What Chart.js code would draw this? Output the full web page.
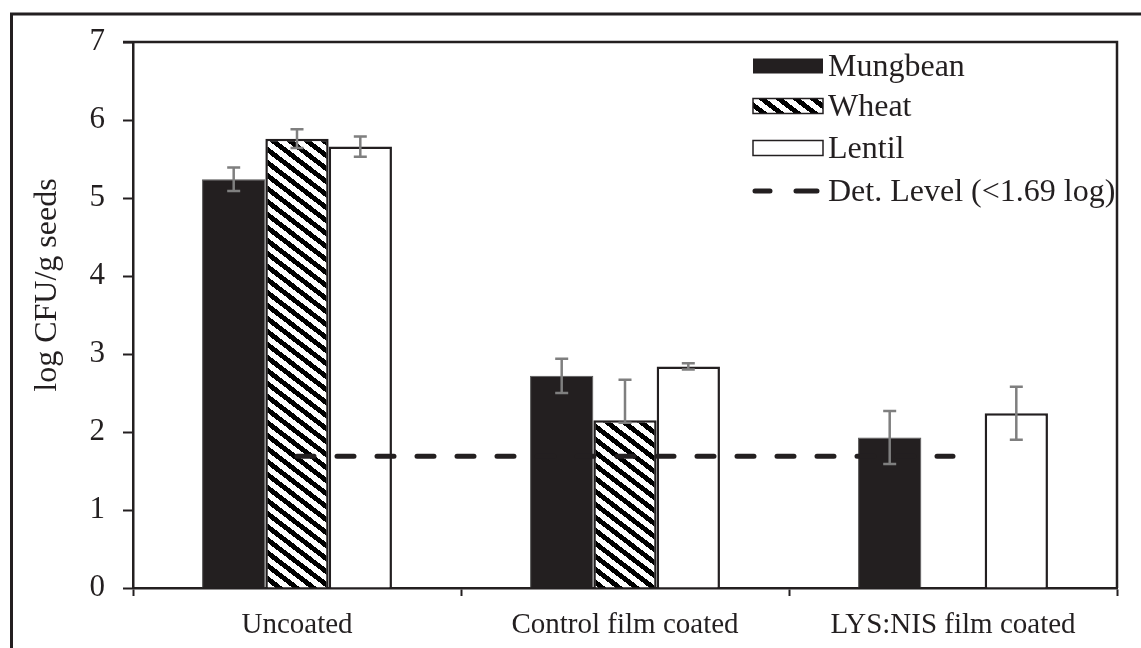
<!DOCTYPE html>
<html>
<head>
<meta charset="utf-8">
<script src="https://cdn.jsdelivr.net/npm/chart.js@4.4.1/dist/chart.umd.min.js"></script>
<style>
  html, body { margin: 0; padding: 0; background: #fff; }
  #wrap { width: 1141px; height: 648px; }
</style>
</head>
<body>
<div id="wrap"><canvas id="chart" width="1141" height="648"></canvas></div>
<script>
// data
const categories = ['Uncoated', 'Control film coated', 'LYS:NIS film coated'];
const mungbean = [5.24, 2.72, 1.93];
const wheat = [5.76, 2.15, null];
const lentil = [5.66, 2.84, 2.24];
const mungbeanErrUp = [0.15, 0.22, 0.34];
const mungbeanErrDown = [0.15, 0.22, 0.34];
const wheatErrUp = [0.12, 0.52, null];
const wheatErrDown = [0.12, 0.03, null];
const lentilErrUp = [0.13, 0.04, 0.34];
const lentilErrDown = [0.13, 0.04, 0.34];
const detLevel = [1.69, 1.69, 1.69];
const yMin = 0, yMax = 7, yStep = 1;
const yTitle = 'log CFU/g seeds';

const INK = '#231f20';
const SERIF = '"Liberation Serif", "Times New Roman", serif';

// diagonal hatch, pixel-stepped like the original
function makeHatch() {
  const w = 17, h = 13;
  const c = document.createElement('canvas');
  c.width = w; c.height = h;
  const cx = c.getContext('2d');
  const img = cx.createImageData(w, h);
  for (let y = 0; y < h; y++) {
    for (let x = 0; x < w; x++) {
      let p = (x / w - y / h) % 1;
      if (p < 0) p += 1;
      const v = p < 0.47 ? 0 : 255;
      const i = (y * w + x) * 4;
      img.data[i] = v; img.data[i + 1] = v; img.data[i + 2] = v; img.data[i + 3] = 255;
    }
  }
  cx.putImageData(img, 0, 0);
  return cx.createPattern(c, 'repeat');
}
const hatch = makeHatch();

const framePlugin = {
  id: 'frame',
  beforeDraw(chart) {
    const ctx = chart.ctx;
    ctx.save();
    ctx.fillStyle = '#fff';
    ctx.fillRect(0, 0, chart.width, chart.height);
    ctx.strokeStyle = INK;
    ctx.lineWidth = 3;
    ctx.beginPath();
    ctx.moveTo(11.5, chart.height);
    ctx.lineTo(11.5, 14);
    ctx.lineTo(chart.width, 14);
    ctx.stroke();
    ctx.restore();
  },
  afterDraw(chart) {
    const ctx = chart.ctx, a = chart.chartArea;
    ctx.save();
    ctx.strokeStyle = INK;
    ctx.lineWidth = 2.5;
    ctx.beginPath();
    ctx.moveTo(a.left - 10, a.top);
    ctx.lineTo(a.right, a.top);
    ctx.lineTo(a.right, a.bottom);
    ctx.stroke();
    // y title
    ctx.fillStyle = INK;
    ctx.font = '32px ' + SERIF;
    ctx.textAlign = 'center';
    ctx.textBaseline = 'middle';
    ctx.translate(48, 285);
    ctx.rotate(-Math.PI / 2);
    ctx.fillText(yTitle, 0, 0);
    ctx.restore();
  }
};

const errorBarPlugin = {
  id: 'errorBars',
  afterDatasetsDraw(chart) {
    const ctx = chart.ctx, y = chart.scales.y;
    ctx.save();
    ctx.strokeStyle = '#7f7f7f';
    ctx.lineWidth = 2.5;
    chart.data.datasets.forEach((ds, i) => {
      if (!ds.errUp) return;
      const meta = chart.getDatasetMeta(i);
      meta.data.forEach((bar, j) => {
        const v = ds.data[j];
        if (v == null || ds.errUp[j] == null) return;
        const top = y.getPixelForValue(v + ds.errUp[j]);
        const bot = y.getPixelForValue(v - ds.errDown[j]);
        const x = bar.x;
        ctx.beginPath();
        ctx.moveTo(x, top); ctx.lineTo(x, bot);
        ctx.moveTo(x - 6.5, top); ctx.lineTo(x + 6.5, top);
        ctx.moveTo(x - 6.5, bot); ctx.lineTo(x + 6.5, bot);
        ctx.stroke();
      });
    });
    ctx.restore();
  }
};

const legendPlugin = {
  id: 'boxLegend',
  afterDraw(chart) {
    const ctx = chart.ctx;
    const rows = [66, 106, 148, 191];
    const x0 = 753, bw = 70, bh = 15;
    ctx.save();
    ctx.font = '32px ' + SERIF;
    ctx.textBaseline = 'alphabetic';
    ctx.textAlign = 'left';
    chart.data.datasets.forEach((ds, i) => {
      const cy = rows[i];
      if (ds.type === 'line') {
        ctx.strokeStyle = ds.borderColor;
        ctx.lineWidth = ds.borderWidth;
        ctx.lineCap = 'round';
        ctx.beginPath();
        ctx.moveTo(755, cy); ctx.lineTo(770, cy);
        ctx.moveTo(796, cy); ctx.lineTo(817, cy);
        ctx.stroke();
      } else {
        ctx.fillStyle = ds.backgroundColor;
        ctx.fillRect(x0, cy - bh / 2, bw, bh);
        if (ds.legendBorder) {
          ctx.strokeStyle = INK;
          ctx.lineWidth = 1.5;
          ctx.strokeRect(x0, cy - bh / 2, bw, bh);
        }
      }
      ctx.fillStyle = INK;
      ctx.fillText(ds.label, 828, cy + 10);
    });
    ctx.restore();
  }
};

new Chart(document.getElementById('chart'), {
  data: {
    labels: categories,
    datasets: [
      { type: 'bar', label: 'Mungbean', data: mungbean, errUp: mungbeanErrUp, errDown: mungbeanErrDown,
        backgroundColor: INK, borderColor: '#555', borderWidth: 1, order: 1 },
      { type: 'bar', label: 'Wheat', data: wheat, errUp: wheatErrUp, errDown: wheatErrDown,
        backgroundColor: hatch, borderColor: INK, borderWidth: 2.5, legendBorder: true, order: 1 },
      { type: 'bar', label: 'Lentil', data: lentil, errUp: lentilErrUp, errDown: lentilErrDown,
        backgroundColor: '#fff', borderColor: INK, borderWidth: 2.5, legendBorder: true, order: 1 },
      { type: 'line', label: 'Det. Level (<1.69 log)', data: detLevel,
        borderColor: INK, borderWidth: 5, borderDash: [17, 23], borderCapStyle: 'round',
        pointRadius: 0, fill: false, order: 0 }
    ]
  },
  options: {
    responsive: false,
    animation: false,
    devicePixelRatio: 1,
    layout: { padding: { left: 0, top: 42, right: 24, bottom: 0 } },
    datasets: { bar: { categoryPercentage: 0.579, barPercentage: 1.0 } },
    plugins: { legend: { display: false }, tooltip: { enabled: false } },
    scales: {
      x: {
        afterFit(s) { s.height = 60; },
        grid: { offset: true, drawOnChartArea: false, tickLength: 8, tickColor: INK, tickWidth: 2 },
        border: { color: INK, width: 2.5 },
        ticks: { color: INK, font: { family: SERIF, size: 29 }, padding: 12, maxRotation: 0 }
      },
      y: {
        min: yMin, max: yMax,
        afterFit(s) { s.width = 133; },
        grid: { drawOnChartArea: false, tickLength: 10, tickColor: INK, tickWidth: 2 },
        border: { color: INK, width: 2.5 },
        ticks: { stepSize: yStep, color: INK, font: { family: SERIF, size: 31 }, padding: 18 }
      }
    }
  },
  plugins: [framePlugin, errorBarPlugin, legendPlugin]
});
</script>
</body>
</html>
